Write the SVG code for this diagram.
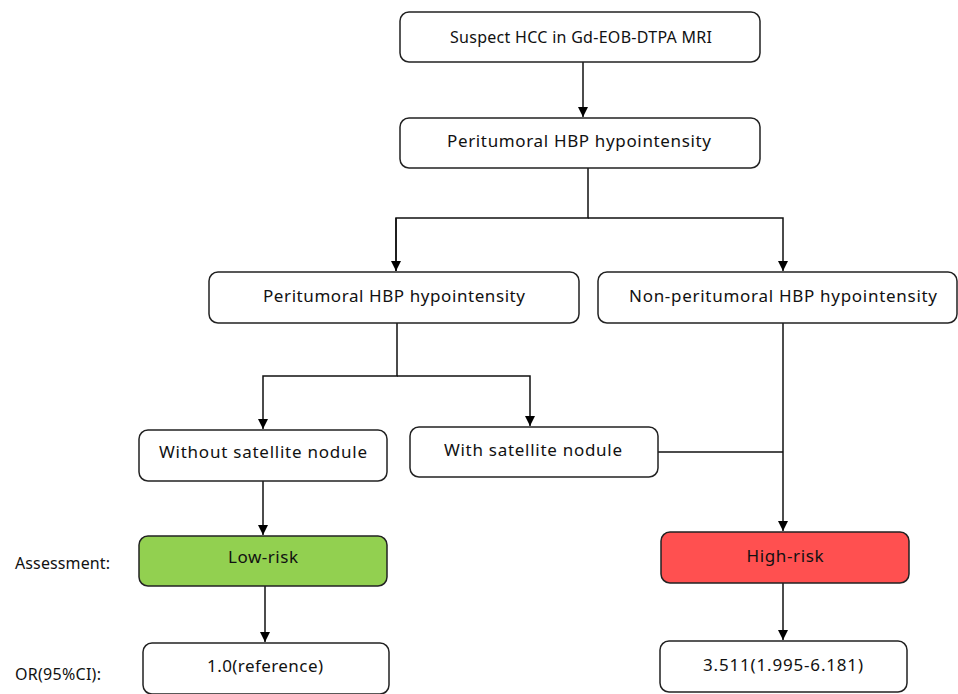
<svg xmlns="http://www.w3.org/2000/svg" width="958" height="694" viewBox="0 0 958 694">
<defs>
<marker id="arr" viewBox="0 0 10 10" refX="10" refY="5" markerWidth="10" markerHeight="10" markerUnits="userSpaceOnUse" orient="auto">
<path d="M0,0 L10,5 L0,10 z" fill="#000"/>
</marker>
<style>
.box{fill:#fff;stroke:#222;stroke-width:1.5}
.low{fill:#92d050;stroke:#222;stroke-width:1.5}
.high{fill:#ff5050;stroke:#222;stroke-width:1.5}
.t{font-family:"Noto Sans","Open Sans","Liberation Sans",sans-serif;font-size:17px;fill:#111;text-anchor:middle}
.s{font-size:16px}
.lbl{font-family:"Noto Sans","Open Sans","Liberation Sans",sans-serif;font-size:16px;fill:#111}
.c{fill:none;stroke:#111;stroke-width:1.5}
</style>
</defs>
<rect width="958" height="694" fill="#fff"/>
<g id="connectors">
<path class="c" d="M583,62 V117" marker-end="url(#arr)"/>
<path class="c" d="M588,168 V218 H396 V271"/>
<path class="c" d="M396,218 V271" marker-end="url(#arr)"/>
<path class="c" d="M588,218 H783 V271" marker-end="url(#arr)"/>
<path class="c" d="M397,323 V376 H263 V429" marker-end="url(#arr)"/>
<path class="c" d="M397,376 H530 V426" marker-end="url(#arr)"/>
<path class="c" d="M783,323 V531" marker-end="url(#arr)"/>
<path class="c" d="M658,452 H783"/>
<path class="c" d="M263,481 V535" marker-end="url(#arr)"/>
<path class="c" d="M265,586 V642" marker-end="url(#arr)"/>
<path class="c" d="M783,583 V640" marker-end="url(#arr)"/>
</g>
<g id="n1"><rect class="box" x="400" y="12" width="360" height="50" rx="9"/><text class="t s" x="581" y="43" textLength="262" lengthAdjust="spacing">Suspect HCC in Gd-EOB-DTPA MRI</text></g>
<g id="n2"><rect class="box" x="400" y="118" width="360" height="50" rx="9"/><text class="t" x="579" y="147" textLength="264" lengthAdjust="spacing">Peritumoral HBP hypointensity</text></g>
<g id="n3"><rect class="box" x="209" y="272" width="370" height="51" rx="9"/><text class="t" x="394" y="302" textLength="262" lengthAdjust="spacing">Peritumoral HBP hypointensity</text></g>
<g id="n4"><rect class="box" x="598" y="272" width="359" height="51" rx="9"/><text class="t" x="783" y="302" textLength="308" lengthAdjust="spacing">Non-peritumoral HBP hypointensity</text></g>
<g id="n5"><rect class="box" x="139" y="430" width="248" height="51" rx="9"/><text class="t" x="263" y="458" textLength="208" lengthAdjust="spacing">Without satellite nodule</text></g>
<g id="n6"><rect class="box" x="410" y="427" width="248" height="50" rx="9"/><text class="t" x="533" y="456" textLength="178" lengthAdjust="spacing">With satellite nodule</text></g>
<g id="n7"><rect class="low" x="139" y="536" width="248" height="50" rx="9"/><text class="t" x="263" y="563" textLength="70" lengthAdjust="spacing">Low-risk</text></g>
<g id="n8"><rect class="high" x="661" y="532" width="248" height="51" rx="9"/><text class="t" x="785" y="562" textLength="77" lengthAdjust="spacing">High-risk</text></g>
<g id="n9"><rect class="box" x="143" y="643" width="246" height="51" rx="9"/><text class="t" x="265" y="672" textLength="116" lengthAdjust="spacing">1.0(reference)</text></g>
<g id="n10"><rect class="box" x="660" y="641" width="247" height="51" rx="9"/><text class="t" x="783" y="671" textLength="160" lengthAdjust="spacing">3.511(1.995-6.181)</text></g>
<g id="labels">
<text class="lbl" x="15" y="569" textLength="95" lengthAdjust="spacing">Assessment:</text>
<text class="lbl" x="15" y="680" textLength="86" lengthAdjust="spacing">OR(95%CI):</text>
</g>
</svg>
